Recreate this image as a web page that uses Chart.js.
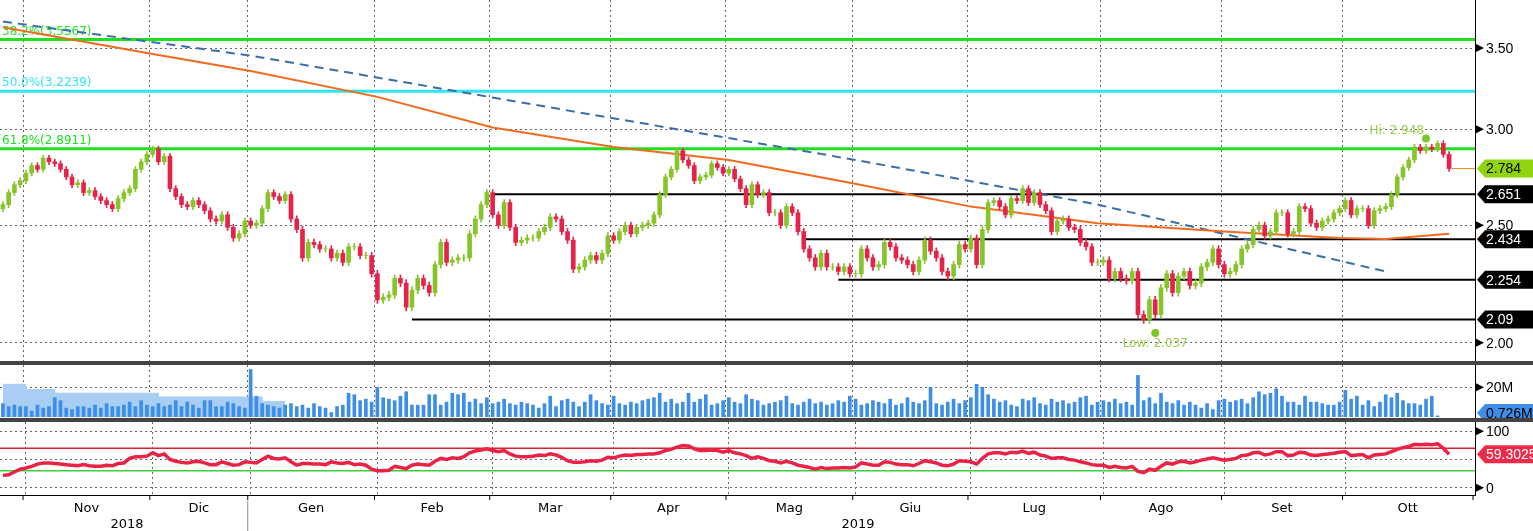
<!DOCTYPE html>
<html>
<head>
<meta charset="utf-8">
<script src="https://cdn.jsdelivr.net/npm/chart.js@4.4.1/dist/chart.umd.min.js"></script>
<style>
  body { margin: 0; background: #fff; width: 1533px; height: 531px; overflow: hidden; position: relative; }
  canvas { position: absolute; left: 0; }
  .sep { position: absolute; left: 0; width: 1533px; height: 4px; background: #444; }
</style>
</head>
<body>
<canvas id="main" width="1533" height="361" style="top:0"></canvas>
<div class="sep" style="top:361px"></div>
<canvas id="vol" width="1533" height="53" style="top:365px"></canvas>
<div class="sep" style="top:418px"></div>
<canvas id="rsi" width="1533" height="109" style="top:422px"></canvas>
<script>
// mesi e sedute per mese
const MESI = ['', 'Nov', 'Dic', 'Gen', 'Feb', 'Mar', 'Apr', 'Mag', 'Giu', 'Lug', 'Ago', 'Set', 'Ott']
const SEDUTE = [4, 22, 17, 22, 20, 21, 20, 22, 20, 23, 21, 21, 23]

// chiusure per mese
const chiusure = [
  2.60, 2.66, 2.70, 2.72,
  2.76, 2.80, 2.78, 2.84, 2.82, 2.81, 2.78, 2.74, 2.70, 2.71, 2.66, 2.67, 2.64, 2.62, 2.60, 2.58, 2.63, 2.66, 2.68, 2.78, 2.82, 2.86,
  2.89, 2.82, 2.85, 2.68, 2.64, 2.60, 2.59, 2.62, 2.60, 2.57, 2.53, 2.52, 2.55, 2.49, 2.44, 2.46, 2.52,
  2.50, 2.51, 2.58, 2.66, 2.64, 2.62, 2.65, 2.53, 2.48, 2.35, 2.42, 2.41, 2.39, 2.39, 2.35, 2.37, 2.33, 2.40, 2.40, 2.36, 2.36, 2.28,
  2.17, 2.18, 2.19, 2.26, 2.24, 2.14, 2.21, 2.26, 2.23, 2.20, 2.32, 2.42, 2.33, 2.34, 2.35, 2.35, 2.46, 2.53, 2.60, 2.66,
  2.55, 2.50, 2.61, 2.49, 2.42, 2.43, 2.44, 2.44, 2.47, 2.49, 2.54, 2.53, 2.47, 2.43, 2.30, 2.31, 2.34, 2.36, 2.34, 2.37, 2.45,
  2.43, 2.47, 2.50, 2.46, 2.49, 2.50, 2.51, 2.55, 2.65, 2.74, 2.78, 2.88, 2.83, 2.80, 2.72, 2.74, 2.75, 2.81, 2.79, 2.76,
  2.78, 2.73, 2.68, 2.60, 2.70, 2.65, 2.66, 2.56, 2.56, 2.50, 2.59, 2.56, 2.47, 2.39, 2.35, 2.31, 2.37, 2.31, 2.31, 2.29, 2.31, 2.28,
  2.28, 2.39, 2.35, 2.31, 2.32, 2.42, 2.40, 2.35, 2.34, 2.32, 2.29, 2.34, 2.43, 2.38, 2.35, 2.29, 2.27, 2.32, 2.41, 2.39,
  2.44, 2.32, 2.48, 2.61, 2.62, 2.59, 2.55, 2.63, 2.62, 2.68, 2.61, 2.66, 2.60, 2.57, 2.47, 2.52, 2.53, 2.49, 2.48, 2.42, 2.40, 2.33, 2.33,
  2.34, 2.26, 2.29, 2.26, 2.25, 2.29, 2.11, 2.09, 2.17, 2.11, 2.22, 2.28, 2.20, 2.27, 2.29, 2.23, 2.24, 2.31, 2.33, 2.39, 2.32,
  2.28, 2.29, 2.32, 2.39, 2.41, 2.48, 2.50, 2.45, 2.47, 2.56, 2.56, 2.46, 2.47, 2.59, 2.58, 2.51, 2.49, 2.52, 2.53, 2.56, 2.58,
  2.62, 2.55, 2.58, 2.58, 2.50, 2.57, 2.58, 2.59, 2.65, 2.74, 2.79, 2.83, 2.90, 2.88, 2.90, 2.89, 2.92, 2.86, 2.784
]

const volumi = [
  9, 7, 8, 7,
  7, 4, 8, 6, 7, 13, 11, 6, 5, 7, 7, 6, 8, 6, 9, 7, 7, 8, 10, 7, 11, 8,
  7, 9, 7, 8, 11, 7, 10, 8, 6, 11, 11, 7, 7, 10, 9, 7, 6,
  32, 14, 9, 8, 7, 6, 8, 9, 7, 8, 6, 9, 7, 6, 3, 7, 8, 16, 15, 11, 12, 10,
  20, 13, 12, 11, 14, 17, 8, 8, 8, 15, 15, 8, 10, 16, 15, 16, 10, 12, 9, 13,
  9, 10, 12, 9, 8, 10, 9, 8, 6, 9, 14, 7, 11, 12, 10, 7, 10, 15, 11, 9, 8,
  14, 9, 8, 10, 9, 11, 12, 13, 16, 10, 12, 9, 10, 16, 10, 12, 15, 8, 9, 11,
  13, 10, 9, 15, 12, 11, 8, 9, 10, 11, 14, 9, 8, 10, 12, 9, 10, 8, 9, 11, 10, 14,
  12, 8, 9, 11, 10, 9, 12, 8, 9, 13, 10, 9, 11, 20, 9, 8, 10, 12, 9, 11,
  13, 22, 20, 15, 12, 10, 11, 8, 7, 12, 11, 13, 9, 8, 12, 10, 11, 9, 10, 13, 14, 8, 10,
  11, 10, 12, 9, 10, 8, 28, 11, 13, 9, 16, 10, 9, 11, 8, 10, 8, 6, 9, 5, 11,
  12, 10, 11, 12, 9, 13, 17, 15, 16, 19, 14, 10, 10, 8, 14, 10, 10, 9, 8, 8, 10,
  18, 12, 14, 8, 11, 7, 10, 15, 13, 16, 11, 9, 9, 8, 12, 14, 0.726
]

const rsi = [
  22, 23, 28, 33,
  35, 38, 42, 44, 44, 43, 42, 41, 40, 39, 41, 39, 38, 38, 40, 39, 43, 44, 52, 55, 55, 56,
  62, 57, 60, 50, 47, 45, 44, 46, 47, 44, 41, 41, 46, 43, 40, 41, 46,
  45, 44, 50, 56, 52, 51, 53, 46, 40, 43, 43, 42, 42, 41, 46, 44, 43, 45, 41, 42, 40, 33,
  30, 30, 31, 38, 36, 34, 40, 42, 41, 40, 47, 52, 50, 53, 52, 55, 62, 65, 67, 69,
  66, 64, 66, 60, 56, 55, 55, 56, 58, 57, 60, 58, 54, 48, 45, 45, 46, 48, 47, 49, 54,
  53, 56, 58, 57, 59, 59, 60, 60, 62, 66, 68, 72, 75, 74, 69, 66, 66, 67, 66, 63,
  66, 62, 60, 57, 52, 55, 52, 48, 47, 44, 47, 44, 40, 38, 36, 33, 36, 34, 35, 35, 36, 35,
  37, 44, 42, 40, 40, 46, 45, 42, 41, 41, 39, 43, 48, 46, 44, 40, 39, 42, 48, 47,
  46, 42, 52, 60, 62, 62, 60, 63, 62, 65, 61, 63, 58, 56, 52, 53, 53, 50, 49, 46, 44, 41, 40,
  40, 36, 38, 36, 35, 38, 29, 27, 33, 31, 38, 44, 42, 46, 47, 44, 46, 49, 51, 53, 51,
  49, 50, 52, 57, 58, 62, 63, 58, 60, 64, 64, 57, 58, 63, 62, 58, 57, 59, 60, 61, 63,
  64, 57, 58, 59, 53, 58, 59, 60, 64, 68, 71, 73, 77, 76, 77, 76, 78, 70, 59.3025
]

// media mobile 200 (letta a punti) e trendline
const mediaPunti = [[0, 3.64], [26, 3.46], [43, 3.35], [65, 3.19], [85, 3.01], [106, 2.90], [126, 2.83],
  [147, 2.71], [168, 2.59], [190, 2.51], [212, 2.47], [232, 2.44], [240, 2.435], [251, 2.46]]
const trendPunti = [[0, 3.68], [43, 3.45], [86, 3.18], [148, 2.83], [190, 2.60], [240, 2.29]]

const fibo = [
  { v: 3.5567, txt: '38.2%(3.5567)', col: '#1ee01e' },
  { v: 3.2239, txt: '50.0%(3.2239)', col: '#2ee6f2' },
  { v: 2.8911, txt: '61.8%(2.8911)', col: '#1ee01e' }
]
const supporti = [[2.651, 85], [2.434, 139], [2.254, 145], [2.09, 71]]

// costruzione etichette
const etichette = []
const inizioMese = []
SEDUTE.forEach((n, m) => {
  inizioMese.push(etichette.length)
  for (let k = 0; k < n; k++) etichette.push(MESI[m])
})
const N = etichette.length

const aperture = chiusure.map((c, i) => i ? chiusure[i - 1] : 2.58)
const corpi = chiusure.map((c, i) => [aperture[i], c])
const ombre = chiusure.map((c, i) => [Math.min(aperture[i], c) - 0.015, Math.max(aperture[i], c) + 0.015])
const coloriCandele = chiusure.map((c, i) => c >= aperture[i] ? '#86c42a' : '#e5234a')

function sparso(punti) {
  const a = new Array(N).fill(null)
  punti.forEach(p => { a[p[0]] = p[1] })
  return a
}

const volMedia = new Array(N).fill(null)
for (let i = 0; i < 50; i++) volMedia[i] = i < 4 ? 22 : i < 9 ? 18.5 : i < 27 ? 16 : i < 45 ? 13.5 : 10.5

const FONT = '"DejaVu Sans", Verdana, sans-serif'
const FONT_TAG = '"Liberation Sans", Arial, sans-serif'

function xScala() {
  return {
    type: 'category',
    offset: true,
    ticks: { display: false, autoSkip: false },
    border: { display: false, dash: [2, 3] },
    grid: {
      drawTicks: false,
      color: c => inizioMese.includes(c.index) && c.index > 0 ? '#666' : 'rgba(0,0,0,0)'
    }
  }
}

function yScala(extra) {
  return Object.assign({
    position: 'right',
    afterFit: s => { s.width = 58 },
    ticks: { display: false },
    border: { display: false, dash: [2, 3] },
    grid: { drawTicks: false, color: '#666', lineWidth: 1 }
  }, extra)
}

function tag(ctx, y, testo, bg, fg) {
  const x0 = 1477, h = 18
  ctx.save()
  ctx.fillStyle = bg
  ctx.beginPath()
  ctx.moveTo(x0, y)
  ctx.lineTo(x0 + 8, y - h / 2)
  ctx.lineTo(1533, y - h / 2)
  ctx.lineTo(1533, y + h / 2)
  ctx.lineTo(x0 + 8, y + h / 2)
  ctx.closePath()
  ctx.fill()
  ctx.fillStyle = fg
  ctx.font = '14px ' + FONT_TAG
  ctx.textBaseline = 'middle'
  ctx.fillText(testo, x0 + 9, y + 1)
  ctx.restore()
}

function tickDestra(ctx, y, testo) {
  ctx.save()
  ctx.fillStyle = '#000'
  ctx.beginPath()
  ctx.moveTo(1476, y - 4)
  ctx.lineTo(1484, y)
  ctx.lineTo(1476, y + 4)
  ctx.fill()
  ctx.font = '14px ' + FONT_TAG
  ctx.textBaseline = 'middle'
  ctx.fillText(testo, 1486, y + 1)
  ctx.restore()
}

function bordoDestro(ctx, top, bottom) {
  ctx.save()
  ctx.strokeStyle = '#000'
  ctx.lineWidth = 1
  ctx.beginPath()
  ctx.moveTo(1475.5, top)
  ctx.lineTo(1475.5, bottom)
  ctx.stroke()
  ctx.restore()
}

// grafico prezzi
const extraPrezzi = {
  id: 'extraPrezzi',
  beforeDatasetsDraw(chart) {
    const { ctx, chartArea: a, scales: { x, y } } = chart
    ctx.save()
    fibo.forEach(f => {
      const py = y.getPixelForValue(f.v)
      ctx.strokeStyle = f.col
      ctx.lineWidth = 3
      ctx.beginPath(); ctx.moveTo(a.left, py); ctx.lineTo(a.right, py); ctx.stroke()
      ctx.fillStyle = f.col
      ctx.font = '12px ' + FONT
      ctx.textBaseline = 'bottom'
      ctx.fillText(f.txt, 2, py - 2)
    })
    supporti.forEach(s => {
      const py = y.getPixelForValue(s[0])
      ctx.strokeStyle = '#000'
      ctx.lineWidth = 2
      ctx.beginPath(); ctx.moveTo(x.getPixelForValue(s[1]), py); ctx.lineTo(a.right, py); ctx.stroke()
    })
    ctx.restore()
  },
  afterDatasetsDraw(chart) {
    const { ctx, scales: { x, y } } = chart
    ctx.save()
    const ultimo = chiusure.length - 1
    const pyU = y.getPixelForValue(chiusure[ultimo])
    ctx.strokeStyle = '#f08a1c'
    ctx.lineWidth = 1
    ctx.beginPath(); ctx.moveTo(x.getPixelForValue(ultimo) + 3, pyU); ctx.lineTo(1476, pyU); ctx.stroke()
    // massimo e minimo
    ctx.fillStyle = '#7cc62a'
    const hx = x.getPixelForValue(247), hy = y.getPixelForValue(2.948)
    ctx.beginPath(); ctx.arc(hx, hy, 4, 0, Math.PI * 2); ctx.fill()
    const lx = x.getPixelForValue(200), ly = y.getPixelForValue(2.037)
    ctx.beginPath(); ctx.arc(lx, ly, 4, 0, Math.PI * 2); ctx.fill()
    ctx.fillStyle = '#9acd4a'
    ctx.font = '12px ' + FONT
    ctx.textAlign = 'right'
    ctx.textBaseline = 'bottom'
    ctx.fillText('Hi: 2.948', hx - 2, hy - 2)
    ctx.textAlign = 'center'
    ctx.textBaseline = 'top'
    ctx.fillText('Low: 2.037', lx, ly + 5)
    ctx.restore()
    bordoDestro(ctx, 0, 361)
    ;[2.0, 2.5, 3.0, 3.5].forEach(v => tickDestra(ctx, y.getPixelForValue(v), v.toFixed(2)))
    ctx.save()
    ctx.strokeStyle = '#f26b1d'; ctx.lineWidth = 3
    const pm = y.getPixelForValue(2.46)
    ctx.beginPath(); ctx.moveTo(1478, pm + 6); ctx.lineTo(1484, pm); ctx.lineTo(1533, pm); ctx.stroke()
    ctx.restore()
    tag(ctx, pyU, chiusure[ultimo].toFixed(3), '#8fd40f', '#000')
    supporti.forEach(s => tag(ctx, y.getPixelForValue(s[0]), String(s[0]), '#000', '#fff'))
  }
}

new Chart(document.getElementById('main'), {
  data: {
    labels: etichette,
    datasets: [
      { type: 'line', data: sparso(mediaPunti), borderColor: '#f26b1d', borderWidth: 2, pointRadius: 0, spanGaps: true, order: 3 },
      { type: 'line', data: sparso(trendPunti), borderColor: '#3a6ea8', borderWidth: 2, borderDash: [9, 6], pointRadius: 0, spanGaps: true, order: 4 },
      { type: 'bar', data: ombre, backgroundColor: coloriCandele, barThickness: 1, grouped: false, order: 2 },
      { type: 'bar', data: corpi, backgroundColor: coloriCandele, barThickness: 4, grouped: false, order: 1 }
    ]
  },
  options: {
    responsive: false, animation: false, devicePixelRatio: 1,
    layout: { padding: 0 },
    plugins: { legend: { display: false }, tooltip: { enabled: false } },
    scales: {
      x: xScala(),
      y: yScala({
        type: 'logarithmic', min: 1.932, max: 3.834,
        afterBuildTicks: s => { s.ticks = [2, 2.5, 3, 3.5].map(v => ({ value: v })) }
      })
    }
  },
  plugins: [extraPrezzi]
})

// volumi
const extraVol = {
  id: 'extraVol',
  afterDatasetsDraw(chart) {
    const { ctx, scales: { y } } = chart
    bordoDestro(ctx, 0, 53)
    tickDestra(ctx, y.getPixelForValue(20), '20M')
    tag(ctx, 48, '0.726M', '#3d8ee6', '#000')
  }
}

new Chart(document.getElementById('vol'), {
  data: {
    labels: etichette,
    datasets: [
      { type: 'line', data: volMedia, stepped: true, fill: 'origin', backgroundColor: '#a9cef4', borderColor: '#a9cef4', borderWidth: 1, pointRadius: 0, order: 2 },
      { type: 'bar', data: volumi, backgroundColor: '#3d8ee6', barThickness: 3, order: 1 }
    ]
  },
  options: {
    responsive: false, animation: false, devicePixelRatio: 1,
    layout: { padding: { top: 0, bottom: 1 } },
    plugins: { legend: { display: false }, tooltip: { enabled: false } },
    scales: {
      x: xScala(),
      y: yScala({
        min: 0, max: 35,
        afterBuildTicks: s => { s.ticks = [{ value: 20 }] }
      })
    }
  },
  plugins: [extraVol]
})

// RSI
const extraRsi = {
  id: 'extraRsi',
  beforeDatasetsDraw(chart) {
    const { ctx, chartArea: a, scales: { y } } = chart
    ctx.save()
    ;[[70, '#e02030'], [30, '#3ccf3c']].forEach(l => {
      const py = y.getPixelForValue(l[0])
      ctx.strokeStyle = l[1]; ctx.lineWidth = 1.5
      ctx.beginPath(); ctx.moveTo(a.left, py); ctx.lineTo(a.right, py); ctx.stroke()
    })
    ctx.restore()
  },
  afterDatasetsDraw(chart) {
    const { ctx, chartArea: a, scales: { x, y } } = chart
    bordoDestro(ctx, 0, a.bottom)
    tickDestra(ctx, y.getPixelForValue(100), '100')
    tickDestra(ctx, y.getPixelForValue(0), '0')
    tag(ctx, y.getPixelForValue(59.3025), '59.3025', '#ee2a4a', '#fff')
    ctx.save()
    ctx.strokeStyle = '#000'; ctx.lineWidth = 1
    ctx.beginPath(); ctx.moveTo(0, a.bottom + 0.5); ctx.lineTo(1476, a.bottom + 0.5); ctx.stroke()
    const w = (x.getPixelForValue(1) - x.getPixelForValue(0))
    const bordi = inizioMese.slice(1).map(i => x.getPixelForValue(i) - w / 2).concat([a.right - 2])
    bordi.forEach(bx => { ctx.beginPath(); ctx.moveTo(bx, a.bottom); ctx.lineTo(bx, a.bottom + 5); ctx.stroke() })
    ctx.fillStyle = '#000'
    ctx.font = '13px ' + FONT
    ctx.textAlign = 'center'
    ctx.textBaseline = 'top'
    for (let m = 1; m < MESI.length; m++) {
      ctx.fillText(MESI[m], (bordi[m - 1] + bordi[m]) / 2, a.bottom + 7)
    }
    const anno = bordi[2]
    ctx.strokeStyle = '#888'
    ctx.beginPath(); ctx.moveTo(anno, a.bottom + 6); ctx.lineTo(anno, a.bottom + 36); ctx.stroke()
    ctx.fillText('2018', 127, a.bottom + 23)
    ctx.fillText('2019', 858, a.bottom + 23)
    ctx.restore()
  }
}

new Chart(document.getElementById('rsi'), {
  data: {
    labels: etichette,
    datasets: [
      { type: 'line', data: rsi, borderColor: '#ea2346', borderWidth: 3.5, pointRadius: 0, tension: 0 }
    ]
  },
  options: {
    responsive: false, animation: false, devicePixelRatio: 1,
    layout: { padding: { top: 0, bottom: 36 } },
    plugins: { legend: { display: false }, tooltip: { enabled: false } },
    scales: {
      x: xScala(),
      y: yScala({
        min: -12.7, max: 116.4,
        afterBuildTicks: s => { s.ticks = [0, 50, 100].map(v => ({ value: v })) }
      })
    }
  },
  plugins: [extraRsi]
})
</script>
</body>
</html>
